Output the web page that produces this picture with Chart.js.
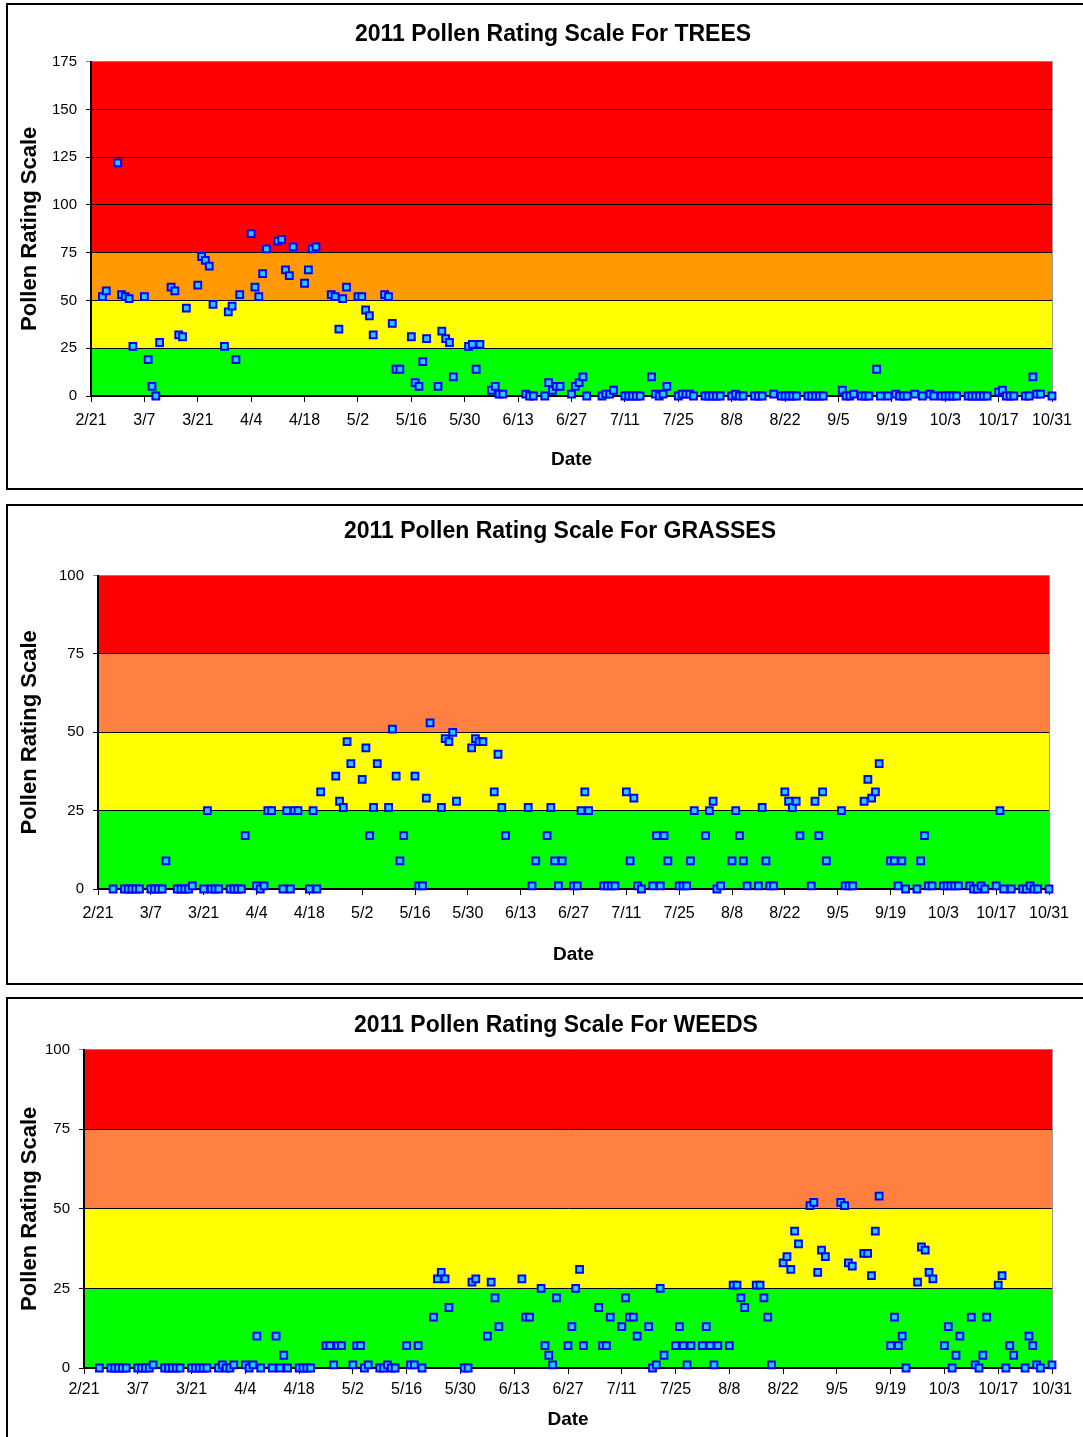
<!DOCTYPE html>
<html>
<head>
<meta charset="utf-8">
<script src="https://cdn.jsdelivr.net/npm/chart.js@4.4.1/dist/chart.umd.min.js"></script>
<style>
  html, body { margin: 0; padding: 0; background: #fff; overflow: hidden; width: 1083px; height: 1437px; }
  .panel { position: absolute; left: 6px; border: 2px solid #000; width: 1110px; }
  .panel canvas { position: absolute; left: 0; top: 0; }
</style>
</head>
<body>
<div class="panel" id="p1" style="top:3px;height:483px"><canvas id="treeChart" width="1090" height="483"></canvas></div>
<div class="panel" id="p2" style="top:504px;height:477px"><canvas id="grassChart" width="1104" height="477"></canvas></div>
<div class="panel" id="p3" style="top:997px;height:460px"><canvas id="weedChart" width="1096" height="440"></canvas></div>
<script>
// x axis = days since 2/21/2011, labelled every 14 days
const dateLabels = ["2/21", "3/7", "3/21", "4/4", "4/18", "5/2", "5/16", "5/30", "6/13", "6/27",
  "7/11", "7/25", "8/8", "8/22", "9/5", "9/19", "10/3", "10/17", "10/31"];

const treeDays = [3, 4, 7, 8, 9, 10, 11, 14, 15, 16,
  17, 18, 21, 22, 23, 24, 25, 28, 29, 30,
  31, 32, 35, 36, 37, 38, 39, 42, 43, 44,
  45, 46, 49, 50, 51, 52, 53, 56, 57, 58,
  59, 63, 64, 65, 66, 67, 70, 71, 72, 73,
  74, 77, 78, 79, 80, 81, 84, 85, 86, 87,
  88, 91, 92, 93, 94, 95, 99, 100, 101, 102,
  105, 106, 107, 108, 114, 115, 116, 119, 120, 121,
  122, 123, 126, 127, 128, 129, 130, 134, 135, 136,
  137, 140, 141, 142, 143, 144, 147, 148, 149, 150,
  151, 154, 155, 156, 157, 158, 161, 162, 163, 164,
  165, 168, 169, 170, 171, 174, 175, 176, 179, 181,
  182, 183, 184, 185, 188, 189, 190, 191, 192, 197,
  198, 199, 200, 202, 203, 204, 206, 207, 209, 211,
  212, 213, 214, 216, 218, 220, 221, 223, 224, 225,
  226, 227, 230, 231, 232, 233, 234, 235, 238, 239,
  240, 241, 242, 245, 246, 247, 248, 249, 252];
const treeValues = [52, 55, 122, 53, 52, 51, 26, 52, 19, 5,
  0, 28, 57, 55, 32, 31, 46, 58, 73, 71,
  68, 48, 26, 44, 47, 19, 53, 85, 57, 52,
  64, 77, 81, 82, 66, 63, 78, 59, 66, 77,
  78, 53, 52, 35, 51, 57, 52, 52, 45, 42,
  32, 53, 52, 38, 14, 14, 31, 7, 5, 18,
  30, 5, 34, 30, 28, 10, 26, 27, 14, 27,
  3, 5, 1, 1, 1, 0, 0, 0, 7, 3,
  5, 5, 1, 5, 7, 10, 0, 0, 1, 1,
  3, 0, 0, 0, 0, 0, 10, 1, 0, 1,
  5, 0, 1, 1, 1, 0, 0, 0, 0, 0,
  0, 0, 1, 0, 0, 0, 0, 0, 1, 0,
  0, 0, 0, 0, 0, 0, 0, 0, 0, 3,
  0, 0, 1, 0, 0, 0, 14, 0, 0, 1,
  0, 0, 0, 1, 0, 1, 0, 0, 0, 0,
  0, 0, 0, 0, 0, 0, 0, 0, 2, 3,
  0, 0, 0, 0, 0, 10, 1, 1, 0];

const grassDays = [4, 7, 8, 9, 10, 11, 14, 15, 16, 17,
  18, 21, 22, 23, 24, 25, 28, 29, 30, 31,
  32, 35, 36, 37, 38, 39, 42, 43, 44, 45,
  46, 49, 50, 51, 52, 53, 56, 57, 58, 59,
  63, 64, 65, 66, 67, 70, 71, 72, 73, 74,
  77, 78, 79, 80, 81, 84, 85, 86, 87, 88,
  91, 92, 93, 94, 95, 99, 100, 101, 102, 105,
  106, 107, 108, 114, 115, 116, 119, 120, 121, 122,
  123, 126, 127, 128, 129, 130, 134, 135, 136, 137,
  140, 141, 142, 143, 144, 147, 148, 149, 150, 151,
  154, 155, 156, 157, 158, 161, 162, 163, 164, 165,
  168, 169, 170, 171, 172, 175, 176, 177, 178, 179,
  182, 183, 184, 185, 186, 189, 190, 191, 192, 193,
  197, 198, 199, 200, 203, 204, 205, 206, 207, 210,
  211, 212, 213, 214, 217, 218, 219, 220, 221, 224,
  225, 226, 227, 228, 231, 232, 233, 234, 235, 238,
  239, 240, 242, 245, 246, 247, 248, 249, 252];
const grassValues = [0, 0, 0, 0, 0, 0, 0, 0, 0, 0,
  9, 0, 0, 0, 0, 1, 0, 25, 0, 0,
  0, 0, 0, 0, 0, 17, 1, 0, 1, 25,
  25, 0, 25, 0, 25, 25, 0, 25, 0, 31,
  36, 28, 26, 47, 40, 35, 45, 17, 26, 40,
  26, 51, 36, 9, 17, 36, 1, 1, 29, 53,
  26, 48, 47, 50, 28, 45, 48, 47, 47, 31,
  43, 26, 17, 26, 1, 9, 17, 26, 9, 1,
  9, 1, 1, 25, 31, 25, 1, 1, 1, 1,
  31, 9, 29, 1, 0, 1, 17, 1, 17, 9,
  1, 1, 1, 9, 25, 17, 25, 28, 0, 1,
  9, 25, 17, 9, 1, 1, 26, 9, 1, 1,
  31, 28, 26, 28, 17, 1, 28, 17, 31, 9,
  25, 1, 1, 1, 28, 35, 29, 31, 40, 9,
  9, 1, 9, 0, 0, 9, 17, 1, 1, 1,
  1, 1, 1, 1, 1, 0, 0, 1, 0, 1,
  25, 0, 0, 0, 0, 1, 0, 0, 0];

const weedDays = [4, 7, 8, 9, 10, 11, 14, 15, 16, 17,
  18, 21, 22, 23, 24, 25, 28, 29, 30, 31,
  32, 35, 36, 37, 38, 39, 42, 43, 44, 45,
  46, 49, 50, 51, 52, 53, 56, 57, 58, 59,
  63, 64, 65, 66, 67, 70, 71, 72, 73, 74,
  77, 78, 79, 80, 81, 84, 85, 86, 87, 88,
  91, 92, 93, 94, 95, 99, 100, 101, 102, 105,
  106, 107, 108, 114, 115, 116, 119, 120, 121, 122,
  123, 126, 127, 128, 129, 130, 134, 135, 136, 137,
  140, 141, 142, 143, 144, 147, 148, 149, 150, 151,
  154, 155, 156, 157, 158, 161, 162, 163, 164, 165,
  168, 169, 170, 171, 172, 175, 176, 177, 178, 179,
  182, 183, 184, 185, 186, 189, 190, 191, 192, 193,
  197, 198, 199, 200, 203, 204, 205, 206, 207, 210,
  211, 212, 213, 214, 217, 218, 219, 220, 221, 224,
  225, 226, 227, 228, 231, 232, 233, 234, 235, 238,
  239, 240, 241, 242, 245, 246, 247, 248, 249, 252];
const weedValues = [0, 0, 0, 0, 0, 0, 0, 0, 0, 0,
  1, 0, 0, 0, 0, 0, 0, 0, 0, 0,
  0, 0, 1, 0, 0, 1, 1, 0, 1, 10,
  0, 0, 10, 0, 4, 0, 0, 0, 0, 0,
  7, 7, 1, 7, 7, 1, 7, 7, 0, 1,
  0, 0, 1, 0, 0, 7, 1, 1, 7, 0,
  16, 28, 30, 28, 19, 0, 0, 27, 28, 10,
  27, 22, 13, 28, 16, 16, 25, 7, 4, 1,
  22, 7, 13, 25, 31, 7, 19, 7, 7, 16,
  13, 22, 16, 16, 10, 13, 0, 1, 25, 4,
  7, 13, 7, 1, 7, 7, 13, 7, 1, 7,
  7, 26, 26, 22, 19, 26, 26, 22, 16, 1,
  33, 35, 31, 43, 39, 51, 52, 30, 37, 35,
  52, 51, 33, 32, 36, 36, 29, 43, 54, 7,
  16, 7, 10, 0, 27, 38, 37, 30, 28, 7,
  13, 0, 4, 10, 16, 1, 0, 4, 16, 26,
  29, 0, 7, 4, 0, 10, 7, 1, 0, 1];

// rating bands (upper bounds) and their fills
const treeBands = [25, 50, 75, 175];
const treeBandColors = ["#00FF00", "#FFFF00", "#FF9900", "#FF0000"];
const herbBands = [25, 50, 75, 100];
const herbBandColors = ["#00FF00", "#FFFF00", "#FF8040", "#FF0000"];

Chart.defaults.font.family = "'Liberation Sans', Arial, sans-serif";
Chart.defaults.color = "#000";
Chart.defaults.animation = false;

const bandPlugin = {
  id: "bands",
  beforeDraw(chart, args, opts) {
    const { ctx, chartArea, scales } = chart;
    let lower = 0;
    opts.bands.forEach((upper, i) => {
      const yTop = scales.y.getPixelForValue(upper);
      const yBot = scales.y.getPixelForValue(lower);
      ctx.fillStyle = opts.colors[i];
      ctx.fillRect(chartArea.left, yTop, chartArea.right - chartArea.left, yBot - yTop);
      lower = upper;
    });
  }
};

function makeChart(id, p) {
  const points = p.days.map((d, i) => ({ x: d, y: p.values[i] }));
  return new Chart(document.getElementById(id), {
    type: "scatter",
    data: {
      datasets: [{
        data: points,
        pointStyle: "rect",
        pointRadius: 4.8,
        borderWidth: 2,
        borderColor: "#0000FF",
        backgroundColor: "#22CCFF",
        clip: false
      }]
    },
    plugins: [bandPlugin],
    options: {
      responsive: false,
      events: [],
      layout: { padding: 0 },
      plugins: {
        legend: { display: false },
        tooltip: { enabled: false },
        title: {
          display: true,
          text: p.title,
          font: { size: 23, weight: "bold" },
          padding: { top: p.titleTop, bottom: p.titleBottom }
        },
        bands: { bands: p.bands, colors: p.colors }
      },
      scales: {
        x: {
          type: "linear",
          min: 0,
          max: 252,
          afterFit: (s) => { s.height = p.xHeight; },
          ticks: {
            stepSize: 14,
            autoSkip: false,
            maxRotation: 0,
            padding: p.xTickPad,
            font: { size: 16 },
            callback: (v) => dateLabels[v / 14]
          },
          grid: { drawOnChartArea: false, tickLength: 6, color: "#000" },
          border: { color: "#000", width: 2 },
          title: {
            display: true,
            text: "Date",
            font: { size: 19, weight: "bold" },
            padding: { top: 0, bottom: p.datePad }
          }
        },
        y: {
          min: 0,
          max: p.max,
          afterFit: (s) => { s.width = p.yWidth; },
          ticks: { stepSize: 25, padding: 9, font: { size: 15 } },
          grid: {
            tickLength: 5,
            color: (c) => (c.tick && c.tick.value === p.max ? "#888" : "#000"),
            lineWidth: 1
          },
          border: { color: "#000", width: 2 },
          title: {
            display: true,
            text: "Pollen Rating Scale",
            font: { size: 22, weight: "bold" },
            padding: { top: 9, bottom: 0 }
          }
        },
        yr: {
          position: "right",
          min: 0,
          max: p.max,
          afterFit: (s) => { s.width = p.rightWidth; },
          ticks: { display: false },
          grid: { display: false, drawTicks: false },
          border: { display: true, color: "#999", width: 1 }
        }
      }
    }
  });
}

makeChart("treeChart", {
  title: "2011 Pollen Rating Scale For TREES",
  days: treeDays, values: treeValues,
  bands: treeBands, colors: treeBandColors, max: 175,
  titleTop: 16, titleBottom: 13,
  yWidth: 83, rightWidth: 46, xHeight: 92, xTickPad: 9, datePad: 17
});

makeChart("grassChart", {
  title: "2011 Pollen Rating Scale For GRASSES",
  days: grassDays, values: grassValues,
  bands: herbBands, colors: herbBandColors, max: 100,
  titleTop: 12, titleBottom: 30,
  yWidth: 90, rightWidth: 63, xHeight: 94, xTickPad: 9, datePad: 17
});

makeChart("weedChart", {
  title: "2011 Pollen Rating Scale For WEEDS",
  days: weedDays, values: weedValues,
  bands: herbBands, colors: herbBandColors, max: 100,
  titleTop: 13, titleBottom: 10,
  yWidth: 76, rightWidth: 52, xHeight: 71, xTickPad: 6, datePad: 8
});
</script>
</body>
</html>
